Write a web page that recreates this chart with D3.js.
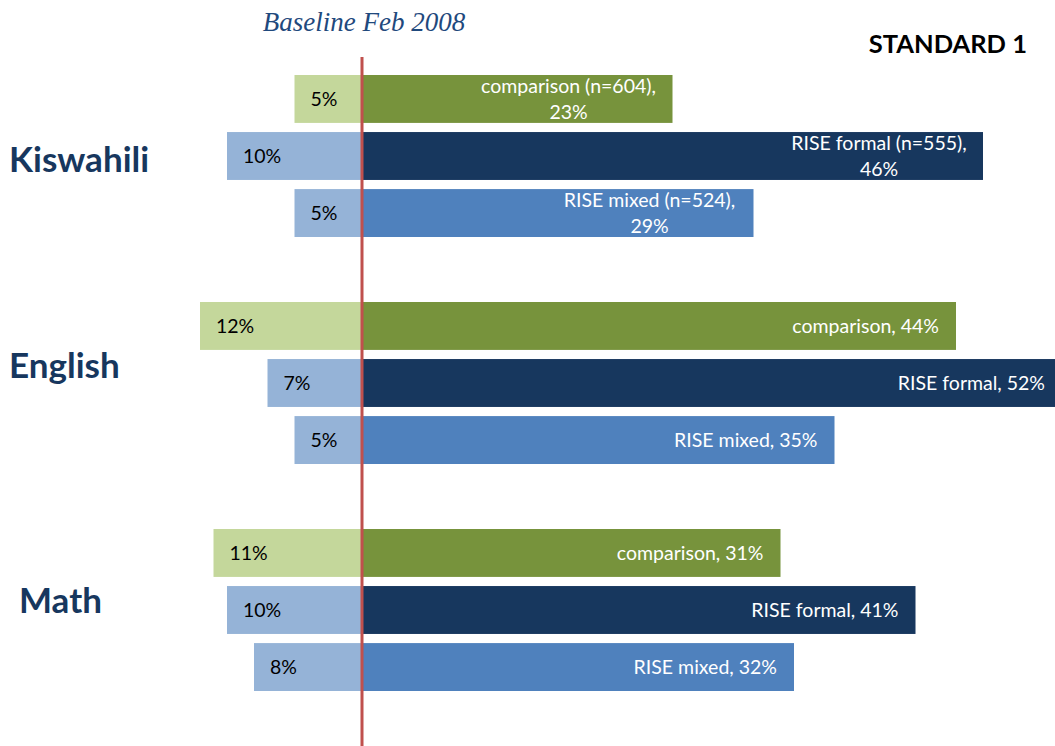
<!DOCTYPE html>
<html>
<head>
<meta charset="utf-8">
<script src="https://cdn.jsdelivr.net/npm/d3@7"></script>
<style>
  body { margin: 0; background: #fff; }
  svg { display: block; }
</style>
</head>
<body>
<div id="chart"></div>
<script>
// subjects and groups
const categories = ["Kiswahili", "English", "Math"];
const series = ["comparison", "RISE formal", "RISE mixed"];
const sampleSizes = [604, 555, 524]; // only shown on the Kiswahili bars

// left (light) bars, % per subject x group
const leftValues = [
  [5, 10, 5],
  [12, 7, 5],
  [11, 10, 8]
];
// right (dark) bars
const rightValues = [
  [23, 46, 29],
  [44, 52, 35],
  [31, 41, 32]
];

const leftColors = ["#c4d79b", "#95b3d7", "#95b3d7"];
const rightColors = ["#77933c", "#17375e", "#4f81bd"];

const width = 1055;
const height = 746;
const font = "Lato, 'Open Sans', sans-serif";

// label anchors for the subject names (they sit in their own text boxes)
const subjectLabelPos = {
  Kiswahili: { x: 9, y: 172 },
  English: { x: 9, y: 378 },
  Math: { x: 19, y: 613 }
};

const svg = d3.select("#chart")
  .append("svg")
  .attr("width", width)
  .attr("height", height);

const x = d3.scaleLinear()
  .domain([0, 10])
  .range([362, 497]);

const yGroup = d3.scaleBand()
  .domain(categories)
  .range([75, 75 + 3 * 227]);

const yRow = d3.scaleBand()
  .domain(series)
  .range([0, 162])
  .paddingInner(0.16);

// flatten into rows
const rows = [];
categories.forEach((cat, i) => {
  series.forEach((s, j) => {
    rows.push({
      cat, s, i, j,
      left: leftValues[i][j],
      right: rightValues[i][j],
      y: yGroup(cat) + yRow(s)
    });
  });
});

const bh = yRow.bandwidth();

// left bars
svg.selectAll("rect.left")
  .data(rows)
  .enter()
  .append("rect")
  .attr("class", "left")
  .attr("x", d => x(-d.left))
  .attr("y", d => d.y)
  .attr("width", d => x(0) - x(-d.left))
  .attr("height", bh)
  .attr("fill", d => leftColors[d.j]);

// right bars
svg.selectAll("rect.right")
  .data(rows)
  .enter()
  .append("rect")
  .attr("class", "right")
  .attr("x", x(0))
  .attr("y", d => d.y)
  .attr("width", d => x(d.right) - x(0))
  .attr("height", bh)
  .attr("fill", d => rightColors[d.j]);

// left value labels
svg.selectAll("text.lv")
  .data(rows)
  .enter()
  .append("text")
  .attr("class", "lv")
  .attr("x", d => x(-d.left) + 16)
  .attr("y", d => d.y + bh / 2 + 7)
  .attr("font-family", font)
  .attr("font-size", 19.5)
  .attr("fill", "#000")
  .text(d => d.left + "%");

// right labels: Kiswahili ones wrap onto two centered lines
const rl = svg.selectAll("text.rv")
  .data(rows)
  .enter()
  .append("text")
  .attr("class", "rv")
  .attr("font-family", font)
  .attr("font-size", 19.5)
  .attr("fill", "#fff");

rl.each(function(d) {
  const t = d3.select(this);
  const end = x(d.right);
  if (d.i === 0) {
    t.attr("text-anchor", "middle");
    t.append("tspan")
      .attr("x", end - 104)
      .attr("y", d.y + bh / 2 - 6)
      .text(d.s + " (n=" + sampleSizes[d.j] + "),");
    t.append("tspan")
      .attr("x", end - 104)
      .attr("y", d.y + bh / 2 + 20)
      .text(d.right + "%");
  } else {
    t.attr("text-anchor", "end")
      .attr("x", end > width ? width - 10 : end - 17)
      .attr("y", d.y + bh / 2 + 7)
      .text(d.s + ", " + d.right + "%");
  }
});

// subject names
svg.selectAll("text.subject")
  .data(categories)
  .enter()
  .append("text")
  .attr("class", "subject")
  .attr("x", d => subjectLabelPos[d].x)
  .attr("y", d => subjectLabelPos[d].y)
  .attr("font-family", font)
  .attr("font-weight", "bold")
  .attr("font-size", 35)
  .attr("fill", "#17375e")
  .text(d => d);

// baseline marker
svg.append("line")
  .attr("x1", x(0)).attr("x2", x(0))
  .attr("y1", 57).attr("y2", height)
  .attr("stroke", "#c0504d")
  .attr("stroke-width", 3);

svg.append("text")
  .attr("x", 364)
  .attr("y", 31)
  .attr("text-anchor", "middle")
  .attr("font-family", "'Liberation Serif', serif")
  .attr("font-style", "italic")
  .attr("font-size", 27)
  .attr("fill", "#1f497d")
  .text("Baseline Feb 2008");

svg.append("text")
  .attr("x", 1027)
  .attr("y", 53)
  .attr("text-anchor", "end")
  .attr("font-family", font)
  .attr("font-weight", "bold")
  .attr("font-size", 25.5)
  .attr("fill", "#000")
  .text("STANDARD 1");
</script>
</body>
</html>
